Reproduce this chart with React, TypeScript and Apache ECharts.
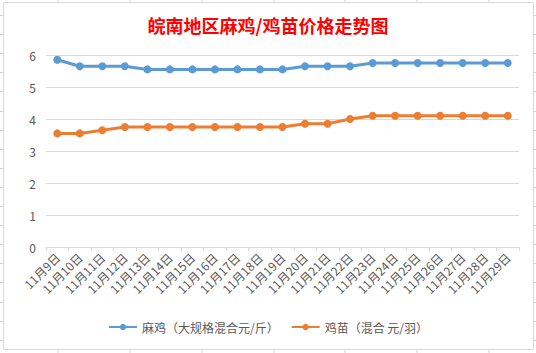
import React, { useEffect, useRef } from "react";
import * as echarts from "echarts";

const categories = [
  "11月9日", "11月10日", "11月11日", "11月12日", "11月13日", "11月14日", "11月15日",
  "11月16日", "11月17日", "11月18日", "11月19日", "11月20日", "11月21日", "11月22日",
  "11月23日", "11月24日", "11月25日", "11月26日", "11月27日", "11月28日", "11月29日",
];
const majiValues = [5.85, 5.65, 5.65, 5.65, 5.55, 5.55, 5.55, 5.55, 5.55, 5.55, 5.55, 5.65, 5.65, 5.65, 5.75, 5.75, 5.75, 5.75, 5.75, 5.75, 5.75];
const jimiaoValues = [3.55, 3.55, 3.65, 3.75, 3.75, 3.75, 3.75, 3.75, 3.75, 3.75, 3.75, 3.85, 3.85, 4.0, 4.1, 4.1, 4.1, 4.1, 4.1, 4.1, 4.1];
const seriesNames = ["麻鸡（大规格混合元/斤）", "鸡苗（混合 元/羽）"];
const titleText = "皖南地区麻鸡/鸡苗价格走势图";

const W = 536;
const H = 353;

export default function App() {
  const ref = useRef<HTMLDivElement>(null);
  useEffect(() => {
    if (!ref.current) return;
    const chart = echarts.init(ref.current, null, { renderer: "svg" });
    const sheetLines: any[] = [];
    const vx = [58, 130, 202, 274, 345, 417, 489];
    vx.forEach((x) => {
      sheetLines.push({ type: "line", shape: { x1: x, y1: 0, x2: x, y2: 2 }, style: { stroke: "#d4d4d4", lineWidth: 1 }, silent: true });
      sheetLines.push({ type: "line", shape: { x1: x, y1: 350, x2: x, y2: H }, style: { stroke: "#d4d4d4", lineWidth: 1 }, silent: true });
    });
    for (let y = 15; y < H; y += 19.1) {
      const yy = Math.round(y) + 0.5;
      sheetLines.push({ type: "line", shape: { x1: 0, y1: yy, x2: 3, y2: yy }, style: { stroke: "#d4d4d4", lineWidth: 1 }, silent: true });
      sheetLines.push({ type: "line", shape: { x1: 534, y1: yy, x2: W, y2: yy }, style: { stroke: "#d4d4d4", lineWidth: 1 }, silent: true });
    }
    const font = "'Noto Sans CJK SC', 'Noto Sans', sans-serif";
    chart.setOption({
      animation: false,
      backgroundColor: "#ffffff",
      title: {
        text: titleText,
        left: "center",
        top: 11,
        textStyle: { color: "#ff0000", fontSize: 18, fontWeight: "bold", fontFamily: font },
      },
      grid: { left: 46, right: 17, top: 55, bottom: 106, containLabel: false },
      legend: {
        bottom: 15,
        left: "center",
        itemWidth: 28,
        itemHeight: 8,
        itemGap: 12,
        textStyle: { color: "#595959", fontSize: 12, fontFamily: font },
        data: seriesNames,
      },
      xAxis: {
        type: "category",
        data: categories,
        boundaryGap: true,
        axisLine: { lineStyle: { color: "#d9d9d9", width: 1 } },
        axisTick: { show: true, length: 4, lineStyle: { color: "#d9d9d9" } },
        axisLabel: { rotate: 45, color: "#595959", fontSize: 12, fontFamily: font, margin: 8, interval: 0 },
      },
      yAxis: {
        type: "value",
        min: 0,
        max: 6,
        interval: 1,
        axisLine: { show: false },
        axisTick: { show: false },
        splitLine: { lineStyle: { color: "#d9d9d9", width: 1 } },
        axisLabel: { color: "#595959", fontSize: 12, fontFamily: font, margin: 10 },
      },
      series: [
        {
          name: seriesNames[0],
          type: "line",
          data: majiValues,
          symbol: "circle",
          symbolSize: 8,
          itemStyle: { color: "#5b9bd5" },
          lineStyle: { color: "#5b9bd5", width: 3 },
        },
        {
          name: seriesNames[1],
          type: "line",
          data: jimiaoValues,
          symbol: "circle",
          symbolSize: 8,
          itemStyle: { color: "#ed7d31" },
          lineStyle: { color: "#ed7d31", width: 3 },
        },
      ],
      graphic: [
        {
          type: "rect",
          shape: { x: 3.5, y: 2.5, width: 530, height: 347 },
          style: { fill: "none", stroke: "#d9d9d9", lineWidth: 1 },
          silent: true,
          z: 100,
        },
        ...sheetLines,
      ],
    });
    return () => chart.dispose();
  }, []);
  return (
    <div
      ref={ref}
      style={{ position: "fixed", left: 0, top: 0, width: W, height: H, background: "#fff" }}
    />
  );
}
